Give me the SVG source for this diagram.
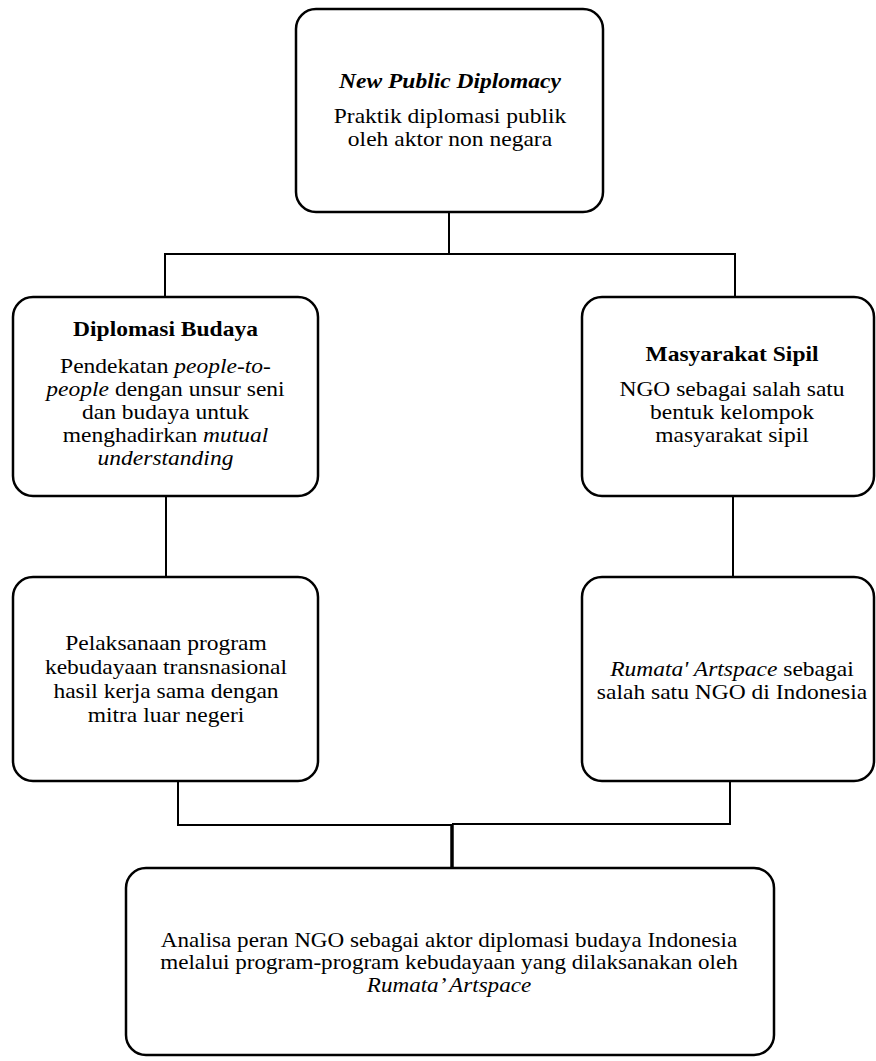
<svg xmlns="http://www.w3.org/2000/svg" width="876" height="1061" viewBox="0 0 876 1061">
<style>
.box{fill:#fff;stroke:#000;stroke-width:2.5}
.ln{stroke:#000;stroke-width:2;fill:none}
text{font-family:"Liberation Serif","Times New Roman",serif;font-size:21px;fill:#000;text-anchor:middle}
.b{font-weight:bold}
.i{font-style:italic}
</style>
<rect width="876" height="1061" fill="#fff"/>
<g id="connectors">
<path class="ln" d="M449 212V254M165 254H735M165 253V297M735 253V297"/>
<path class="ln" d="M166 496V577M733 496V577"/>
<path class="ln" d="M178 781V825H452M730 781V824H452"/>
<path class="ln" d="M452 824V868" style="stroke-width:3.5"/>
</g>
<g id="node-npd">
<rect class="box" x="296" y="9" width="307" height="203" rx="20"/>
<g transform="translate(450 0) scale(1.12 1)">
<text x="0" y="88" class="b i">New Public Diplomacy</text>
<text x="0" y="123.5">Praktik diplomasi publik</text>
<text x="0" y="146.5">oleh aktor non negara</text>
</g>
</g>
<g id="node-budaya">
<rect class="box" x="13" y="297" width="305" height="199" rx="20"/>
<g transform="translate(165.5 0) scale(1.12 1)">
<text x="0" y="336.5" class="b">Diplomasi Budaya</text>
<text x="0" y="372.7">Pendekatan <tspan class="i">people-to-</tspan></text>
<text x="0" y="395.7"><tspan class="i">people</tspan> dengan unsur seni</text>
<text x="0" y="418.7">dan budaya untuk</text>
<text x="0" y="441.7">menghadirkan <tspan class="i">mutual</tspan></text>
<text x="0" y="464.7" class="i">understanding</text>
</g>
</g>
<g id="node-sipil">
<rect class="box" x="582" y="297" width="292" height="199" rx="20"/>
<g transform="translate(732 0) scale(1.12 1)">
<text x="0" y="361.5" class="b">Masyarakat Sipil</text>
<text x="0" y="396">NGO sebagai salah satu</text>
<text x="0" y="419">bentuk kelompok</text>
<text x="0" y="442">masyarakat sipil</text>
</g>
</g>
<g id="node-program">
<rect class="box" x="13" y="577" width="305" height="204" rx="20"/>
<g transform="translate(166 0) scale(1.12 1)">
<text x="0" y="650">Pelaksanaan program</text>
<text x="0" y="674">kebudayaan transnasional</text>
<text x="0" y="698">hasil kerja sama dengan</text>
<text x="0" y="722">mitra luar negeri</text>
</g>
</g>
<g id="node-rumata">
<rect class="box" x="582" y="577" width="292" height="204" rx="20"/>
<g transform="translate(732 0) scale(1.12 1)">
<text x="0" y="676"><tspan class="i">Rumata' Artspace</tspan> sebagai</text>
<text x="0" y="699">salah satu NGO di Indonesia</text>
</g>
</g>
<g id="node-analisa">
<rect class="box" x="126" y="868" width="648" height="187" rx="20"/>
<g transform="translate(449 0) scale(1.1 1)">
<text x="0" y="947">Analisa peran NGO sebagai aktor diplomasi budaya Indonesia</text>
<text x="0" y="969.5">melalui program-program kebudayaan yang dilaksanakan oleh</text>
<text x="0" y="992" class="i">Rumata’ Artspace</text>
</g>
</g>
</svg>
